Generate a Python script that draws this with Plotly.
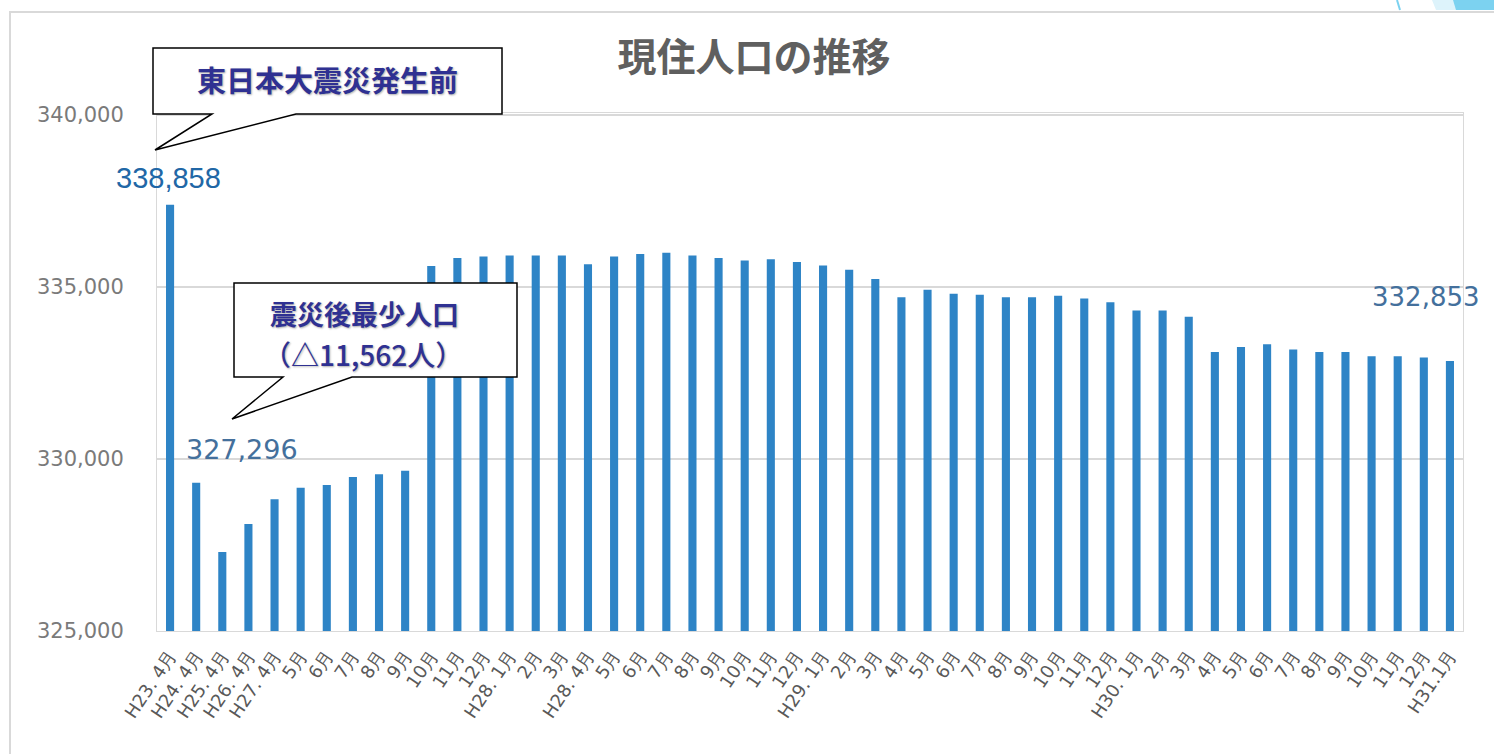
import plotly.graph_objects as go

# ---- data ----
categories = ["H23. 4月", "H24. 4月", "H25. 4月", "H26. 4月", "H27. 4月",
              "5月", "6月", "7月", "8月", "9月", "10月", "11月", "12月",
              "H28. 1月", "2月", "3月", "H28. 4月",
              "5月", "6月", "7月", "8月", "9月", "10月", "11月", "12月",
              "H29. 1月", "2月", "3月", "4月", "5月", "6月", "7月", "8月", "9月",
              "10月", "11月", "12月",
              "H30. 1月", "2月", "3月", "4月", "5月", "6月", "7月", "8月", "9月",
              "10月", "11月", "12月", "H31.1月"]
population = [337390, 329310, 327296, 328110, 328830, 329165, 329245, 329475, 329555, 329660,
              335615, 335845, 335885, 335920, 335920, 335920, 335660, 335885, 335960, 336000,
              335920, 335845, 335770, 335805, 335730, 335625, 335505, 335235, 334700, 334920,
              334805, 334775, 334700, 334700, 334750, 334670, 334555, 334320, 334320, 334135,
              333115, 333260, 333340, 333185, 333115, 333115, 332990, 332990, 332950, 332853]
y_ticks = [325000, 330000, 335000, 340000]
y_tick_text = ["325,000", "330,000", "335,000", "340,000"]
title_text = "現住人口の推移"
label_first = "338,858"
label_min = "327,296"
label_last = "332,853"
callout1_text = "東日本大震災発生前"
callout2_line1 = "震災後最少人口"
callout2_line2 = "（△11,562人）"

W, H = 1494, 754
L, R, T, B = 157, 31, 113, 123
PW, PH = W - L - R, H - T - B


def px(x):
    return (x - L) / PW


def py(y):
    return (H - B - y) / PH


def path(points):
    s = "M " + " L ".join(f"{px(a):.5f},{py(b):.5f}" for a, b in points) + " Z"
    return s


xs = list(range(len(categories)))

fig = go.Figure()
fig.add_trace(go.Bar(
    x=xs, y=population, width=0.31,
    marker=dict(color="#2E84C6", line=dict(width=0)),
    hoverinfo="y", showlegend=False,
))

shapes = []
# outer chart frame
shapes.append(dict(type="path", xref="paper", yref="paper",
                   path=path([(10, 12), (1502, 12), (1502, 760), (10, 760)]),
                   line=dict(color="#D9D9D9", width=2), fillcolor="rgba(0,0,0,0)", layer="below"))
# decoration top right
shapes.append(dict(type="path", xref="paper", yref="paper",
                   path=path([(1432, 0), (1494, 0), (1494, 10), (1436, 10)]),
                   line=dict(width=0), fillcolor="#DDF3FB"))
shapes.append(dict(type="path", xref="paper", yref="paper",
                   path=path([(1453, 0), (1494, 0), (1494, 10), (1456, 10)]),
                   line=dict(width=0), fillcolor="#7CD2F0"))
shapes.append(dict(type="line", xref="paper", yref="paper",
                   x0=px(1397), y0=py(0), x1=px(1400), y1=py(10),
                   line=dict(color="#7CD2F0", width=2)))
# callout 1
shapes.append(dict(type="path", xref="paper", yref="paper",
                   path=path([(153, 48), (502, 48), (502, 114), (296, 114), (155, 150),
                              (212, 114), (153, 114)]),
                   line=dict(color="#000000", width=1.5), fillcolor="#FFFFFF"))
# callout 2
shapes.append(dict(type="path", xref="paper", yref="paper",
                   path=path([(234, 283), (517, 283), (517, 377), (352, 377), (232, 419),
                              (283, 377), (234, 377)]),
                   line=dict(color="#000000", width=1.5), fillcolor="#FFFFFF"))

callout_font = dict(family="Noto Sans CJK JP", size=29, color="#2F3192", weight="bold",
                    shadow="1px 1px 2px #B0B0B0")
annotations = [
    dict(xref="paper", yref="paper", x=px(327), y=py(79), text=callout1_text,
         showarrow=False, font=callout_font, xanchor="center", yanchor="middle"),
    dict(xref="paper", yref="paper", x=px(364), y=py(313), text=callout2_line1,
         showarrow=False, font=dict(callout_font, size=27), xanchor="center", yanchor="middle"),
    dict(xref="paper", yref="paper", x=px(363), y=py(354), text=callout2_line2,
         showarrow=False, font=dict(callout_font, size=28, weight=500),
         xanchor="center", yanchor="middle"),
    # data labels
    dict(x=xs[0], y=population[0], text=label_first, showarrow=False,
         xshift=-2, yshift=27, xanchor="center", yanchor="middle",
         font=dict(family="Liberation Sans Narrow, Liberation Sans", size=29, color="#2167A6")),
    dict(x=xs[2], y=population[2], text=label_min, showarrow=False,
         xshift=20, yshift=103, xanchor="center", yanchor="middle",
         font=dict(family="DejaVu Sans", size=27, color="#44709C")),
    dict(x=xs[-1], y=population[-1], text=label_last, showarrow=False,
         xshift=-24, yshift=64, xanchor="center", yanchor="middle",
         font=dict(family="DejaVu Sans", size=26, color="#44709C")),
]

fig.update_layout(
    width=W, height=H,
    margin=dict(l=L, r=R, t=T, b=B, autoexpand=False),
    paper_bgcolor="#FFFFFF", plot_bgcolor="#FFFFFF",
    title=dict(text=title_text, xref="container", yref="container",
               x=754 / W, y=1 - 57 / H, xanchor="center", yanchor="middle",
               font=dict(family="Noto Sans CJK JP", size=39, color="#5F5F5F", weight="bold")),
    xaxis=dict(tickmode="array", tickvals=xs, ticktext=categories, tickangle=-56,
               range=[-0.5, len(xs) - 0.5], showgrid=False, ticks="",
               showline=True, linecolor="#D9D9D9", linewidth=1, mirror=True,
               tickfont=dict(family="DejaVu Sans", size=18, color="#595959"),
               ticklabelstandoff=6, zeroline=False),
    yaxis=dict(tickmode="array", tickvals=y_ticks, ticktext=y_tick_text,
               range=[325000, 340060], showgrid=True, gridcolor="#D9D9D9", gridwidth=2,
               showline=True, linecolor="#D9D9D9", linewidth=1, mirror=True,
               tickfont=dict(family="DejaVu Sans", size=21, color="#7A7A7A"),
               ticks="", ticklabelstandoff=28, zeroline=False),
    shapes=shapes, annotations=annotations,
    bargap=0.7,
)

fig.write_html("out.html", config={"displayModeBar": False},
               post_script="document.body.style.margin='0';")
